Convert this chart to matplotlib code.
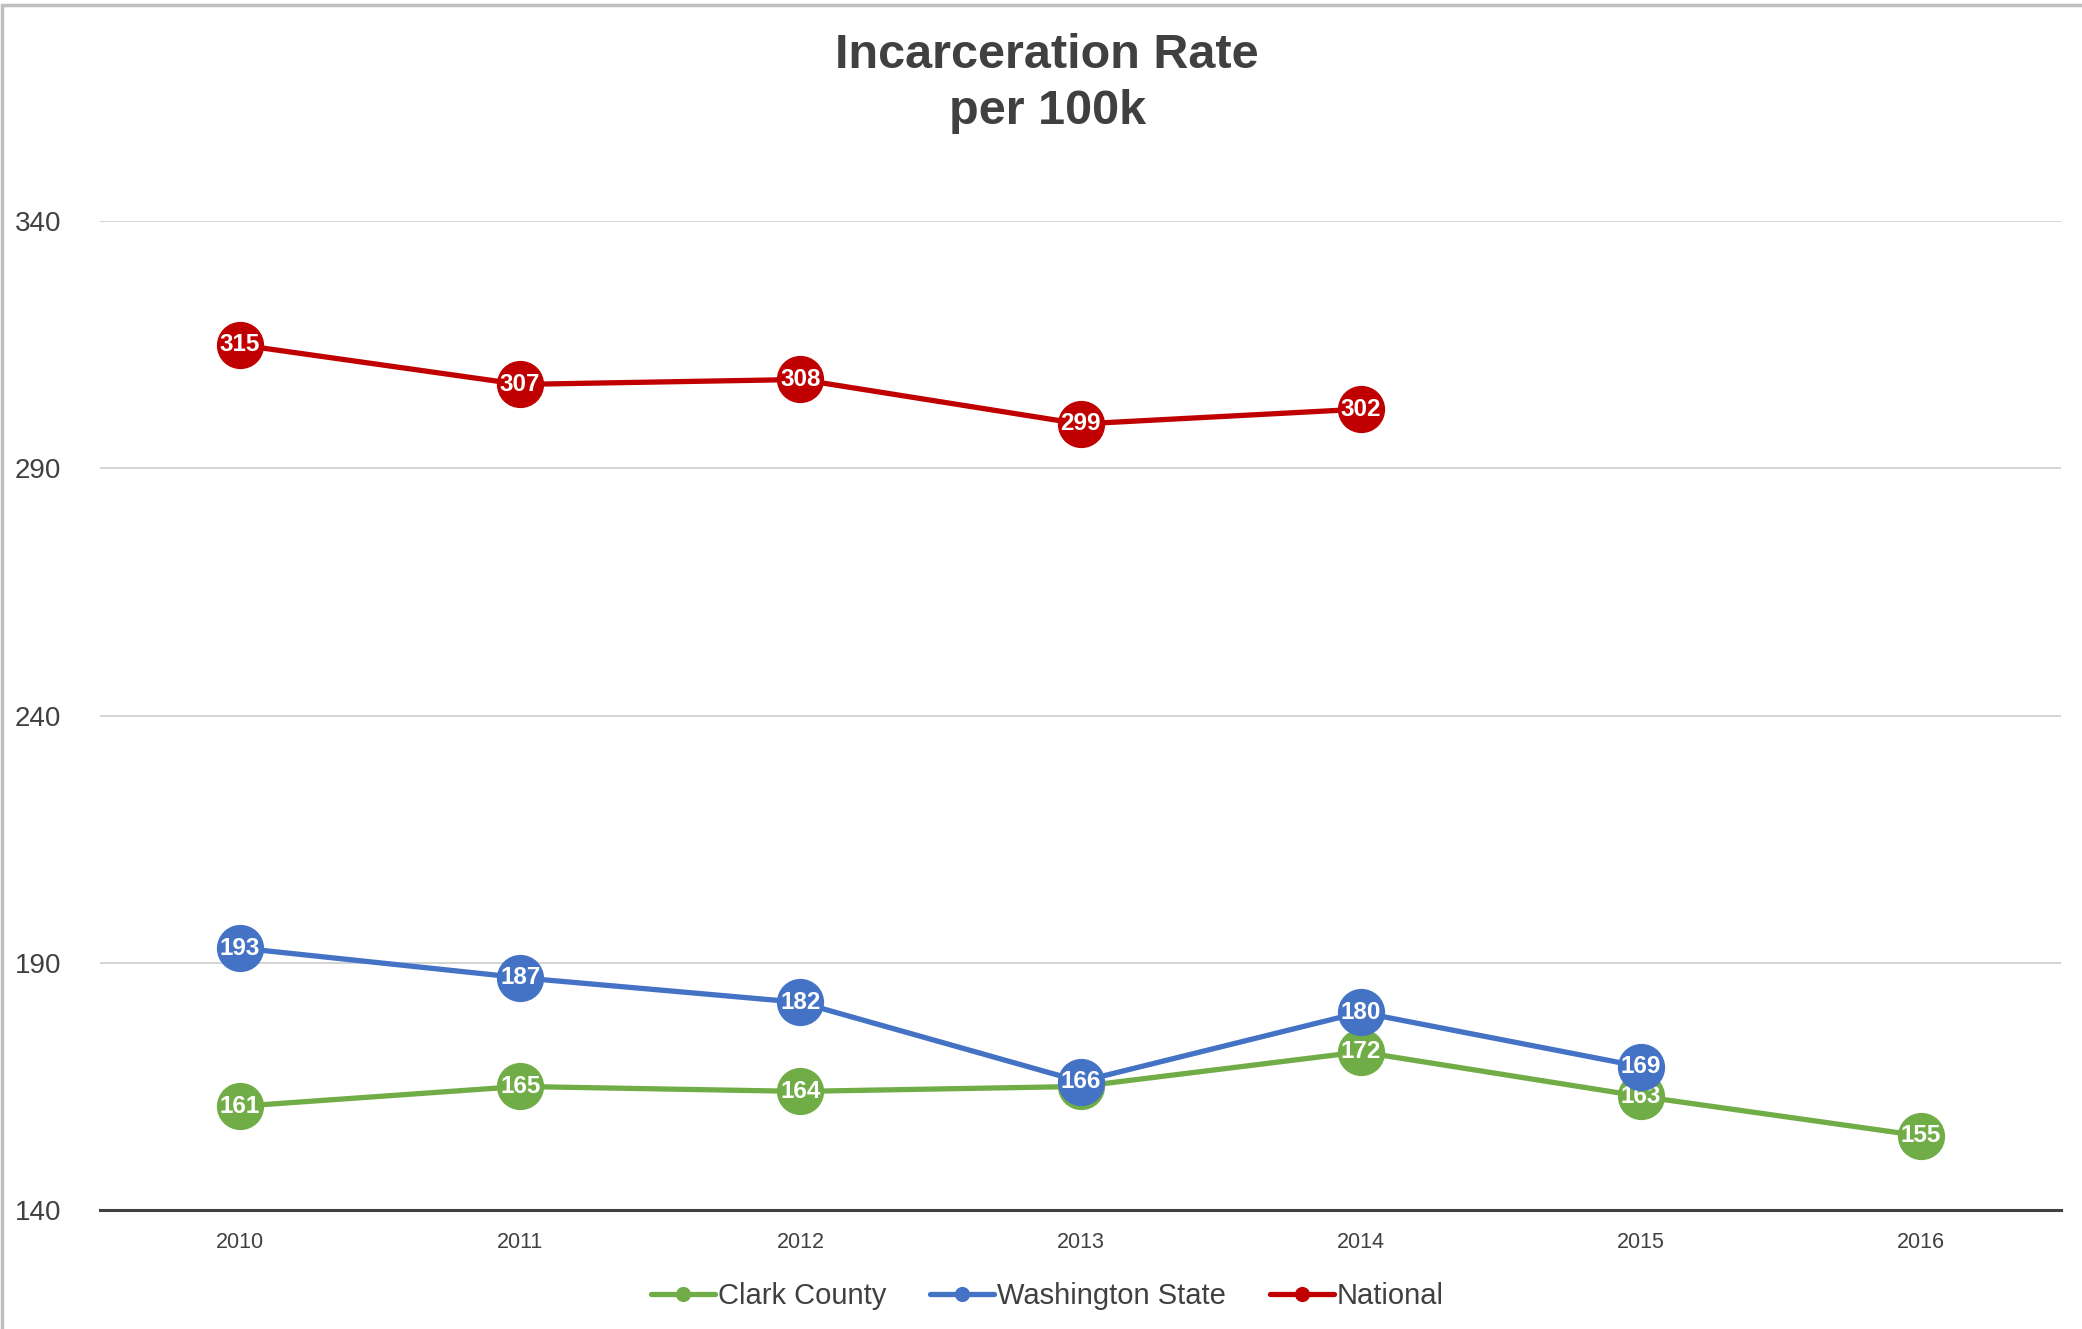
import numpy as np
import matplotlib.pyplot as plt
from matplotlib.patches import Rectangle

plt.rcParams['font.family'] = ['Liberation Sans', 'DejaVu Sans']

# data
years = ['2010', '2011', '2012', '2013', '2014', '2015', '2016']
clark = [161, 165, 164, 165, 172, 163, 155]
washington = [193, 187, 182, 166, 180, 169, np.nan]
national = [315, 307, 308, 299, 302, np.nan, np.nan]

series = [
    ('Clark County', clark, '#70AD47'),
    ('Washington State', washington, '#4472C4'),
    ('National', national, '#C00000'),
]

fig = plt.figure(figsize=(20.82, 13.29), dpi=100)
ax = fig.add_axes([0.048, 0.0895, 0.942, 0.744])

x = np.arange(len(years))
for z, (name, vals, col) in enumerate(series):
    vals = np.array(vals, dtype=float)
    ax.plot(x, vals, color=col, lw=3.8, marker='o', markersize=33,
            label=name, zorder=3 + z, solid_capstyle='round')
    for xi, v in zip(x, vals):
        if np.isnan(v):
            continue
        ax.text(xi, v, f'{int(v)}', color='white', fontsize=17.5,
                fontweight='bold', ha='center', va='center', zorder=3 + z)

ax.set_xlim(-0.5, len(years) - 0.5)
ax.set_ylim(140, 340)
ax.set_yticks([140, 190, 240, 290, 340])
ax.set_xticks(x)
ax.set_xticklabels(years)
ax.tick_params(axis='y', length=0, labelsize=20, labelcolor='#404040', pad=28)
ax.tick_params(axis='x', length=0, labelsize=15.5, labelcolor='#404040', pad=16)
ax.grid(axis='y', color='#d0d0d0', lw=1.3)
ax.set_axisbelow(True)
for s in ['top', 'right', 'left']:
    ax.spines[s].set_visible(False)
ax.spines['bottom'].set_color('#404040')
ax.spines['bottom'].set_linewidth(2.2)

fig.text(0.503, 0.937, 'Incarceration Rate\nper 100k', ha='center', va='center',
         fontsize=35, fontweight='bold', color='#404040', linespacing=1.3)

leg = fig.legend(loc='center', bbox_to_anchor=(0.503, 0.025), ncol=3,
                 frameon=False, fontsize=21, handlelength=2.2,
                 columnspacing=1.5, handletextpad=0.1, markerscale=0.3)
for t in leg.get_texts():
    t.set_color('#404040')

# chart border
fig.patches.append(Rectangle((0.001, -0.01), 1.2, 1.006, transform=fig.transFigure,
                             fill=False, edgecolor='#bfbfbf', lw=2.5))

fig.savefig('out.png', dpi=100, facecolor='white')
